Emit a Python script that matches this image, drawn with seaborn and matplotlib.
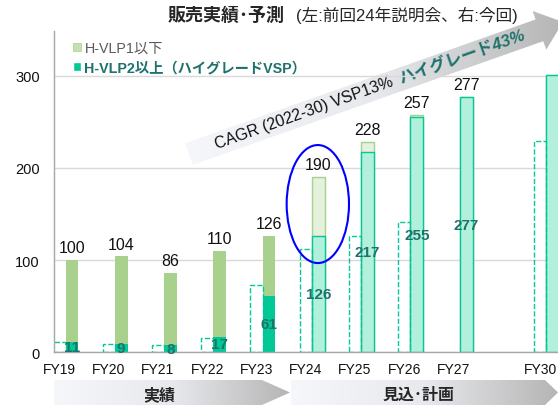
import numpy as np
import pandas as pd
import seaborn as sns
import matplotlib.pyplot as plt
from matplotlib.patches import Patch, Ellipse, Polygon, FancyArrow
from matplotlib.colors import LinearSegmentedColormap

# data
years = ['FY19', 'FY20', 'FY21', 'FY22', 'FY23', 'FY24', 'FY25', 'FY26', 'FY27', 'FY30']
total_now = [100, 104, 86, 110, 126, 190, 228, 257, 277, 301]   # 今回 total
vsp_now = [11, 9, 8, 17, 61, 126, 217, 255, 277, 301]           # 今回 H-VLP2以上
vsp_prev = [11, 9, 8, 16, 73, 112, 126, 141, np.nan, 229]       # 前回24年説明会
phase = ['実績'] * 5 + ['計画'] * 5
# x slots (FY28/29 not shown, FY30 pulled in)
xpos = [0, 1, 2, 3, 4, 5, 6, 7, 8, 9.76]

sns.set_style('white')
plt.rcParams['font.family'] = ['Liberation Sans', 'Noto Sans CJK JP']

GREEN = '#a9d18e'
TEAL = '#00c897'
DARK = '#1d736c'

df = pd.DataFrame({'year': years, 'x': xpos, 'total': total_now,
                   'vsp': vsp_now, 'prev': vsp_prev, 'phase': phase})
df['xs'] = df['x'] + 0.255
act = df[df.phase == '実績']
fc = df[df.phase == '計画']
prev = df.dropna(subset=['prev'])

fig = plt.figure(figsize=(5.58, 4.06), dpi=100)
ax = fig.add_axes([53.5 / 558, (406 - 353.3) / 406, 1 - 53.5 / 558, (353.3 - 32) / 406])
ax.patch.set_visible(False)

kw = dict(native_scale=True, orient='x', errorbar=None, saturation=1, ax=ax)
sns.barplot(data=act, x='xs', y='total', width=0.26, color=GREEN, linewidth=0, **kw)
sns.barplot(data=act, x='xs', y='vsp', width=0.26, color=TEAL, linewidth=0, **kw)
sns.barplot(data=fc, x='xs', y='total', width=0.26, color='#e4f1dc', edgecolor=GREEN, linewidth=1, **kw)
sns.barplot(data=fc, x='xs', y='vsp', width=0.26, color='#b3f0dc', edgecolor=TEAL, linewidth=1, **kw)
sns.barplot(data=prev, x='x', y='prev', width=0.25, fill=False, color=TEAL,
            linestyle='--', linewidth=1, **kw)

# value labels
for _, r in df[df.year != 'FY30'].iterrows():
    ax.annotate(str(r['total']), (r['xs'], r['total']), xytext=(0, 3.5), textcoords='offset points',
                ha='center', va='bottom', fontsize=11.5, color='#111111')
    ax.text(r['xs'], r['vsp'] / 2, str(r['vsp']), ha='center', va='center', fontsize=11,
            fontweight='bold', color=DARK)

ax.add_patch(Ellipse((5.245, 160.8), 1.265, 128, fill=False, edgecolor='#0000ff', lw=1.5, zorder=5))

ax.set_xlim(-0.12, 10.12)
ax.set_ylim(0, 348.5)
ax.set_xticks(xpos)
ax.set_xticklabels(years)
ax.set_yticks([0, 100, 200, 300])
ax.set_xlabel('')
ax.set_ylabel('')
ax.tick_params(axis='x', length=0, pad=7, labelsize=10, colors='#111111')
ax.tick_params(axis='y', length=4, width=1, pad=6, labelsize=10.5, colors='#111111', color='#a6a6a6')
ax.yaxis.grid(True, color='#d9d9d9', lw=1)
ax.set_axisbelow(True)
for s in ['top', 'right']:
    ax.spines[s].set_visible(False)
for s in ['left', 'bottom']:
    ax.spines[s].set_color('#a6a6a6')
    ax.spines[s].set_linewidth(1)

handles = [Patch(facecolor='#c5e0b4', edgecolor='#a9d18e', lw=0.5), Patch(facecolor=TEAL)]
leg = ax.legend(handles, ['H-VLP1以下', 'H-VLP2以上（ハイグレードVSP）'], loc='upper left',
                bbox_to_anchor=(73 / 558, 1 - 42 / 406), bbox_transform=fig.transFigure,
                frameon=False, fontsize=10.3, handlelength=0.55, handleheight=0.55,
                handletextpad=0.25, labelspacing=0.4, borderpad=0, borderaxespad=0)
t1, t2 = leg.get_texts()
t1.set_color('#595959')
t2.set_color(DARK)
t2.set_fontweight('bold')

# overlay in pixel coords for title, arrows
ov = fig.add_axes([0, 0, 1, 1], zorder=-1)
ov.set_xlim(0, 558)
ov.set_ylim(406, 0)
ov.axis('off')

cmap = LinearSegmentedColormap.from_list('g', ['#f6f7fb', '#e8e9ed', '#b5b5b5'])
grad = np.linspace(0, 1, 256).reshape(1, -1)


def grad_fill(poly, x0, x1, y0, y1):
    ov.add_patch(poly)
    im = ov.imshow(grad, cmap=cmap, extent=(x0, x1, y1, y0), aspect='auto', zorder=1)
    im.set_clip_path(poly)


arr = FancyArrow(189, 155, 563 - 189, 23 - 155, width=23, head_width=41, head_length=25,
                 length_includes_head=True, facecolor='none', edgecolor='none')
grad_fill(arr, 185, 565, 5, 170)
ov.set_xlim(0, 558)
ov.set_ylim(406, 0)

ov.text(217, 149, 'CAGR (2022-30) VSP13%', rotation=19.7, rotation_mode='anchor',
        ha='left', va='baseline', fontsize=11.5, color='#111111', zorder=3)
ov.text(401, 84, 'ハイグレード43%', rotation=19.7, rotation_mode='anchor',
        ha='left', va='baseline', fontsize=12, fontweight='bold', style='italic',
        color=DARK, zorder=3)

c1 = Polygon([(54, 381), (262, 381), (290, 393.5), (262, 406), (54, 406)], closed=True,
             facecolor='none', edgecolor='none')
grad_fill(c1, 54, 290, 381, 406)
c2 = Polygon([(291, 381), (545, 381), (558, 393.5), (545, 406), (291, 406)], closed=True,
             facecolor='none', edgecolor='none')
grad_fill(c2, 291, 558, 381, 406)
ov.set_xlim(0, 558)
ov.set_ylim(406, 0)
ov.text(159, 395, '実績', ha='center', va='center', fontsize=11.5, fontweight='bold', zorder=3)
ov.text(419, 395, '見込･計画', ha='center', va='center', fontsize=11.5, fontweight='bold', zorder=3)

ov.text(168, 21, '販売実績･予測', ha='left', va='baseline', fontsize=13, fontweight='bold')
ov.text(296, 21, '(左:前回24年説明会、右:今回)', ha='left', va='baseline', fontsize=12)

fig.savefig('out.png', dpi=100)
